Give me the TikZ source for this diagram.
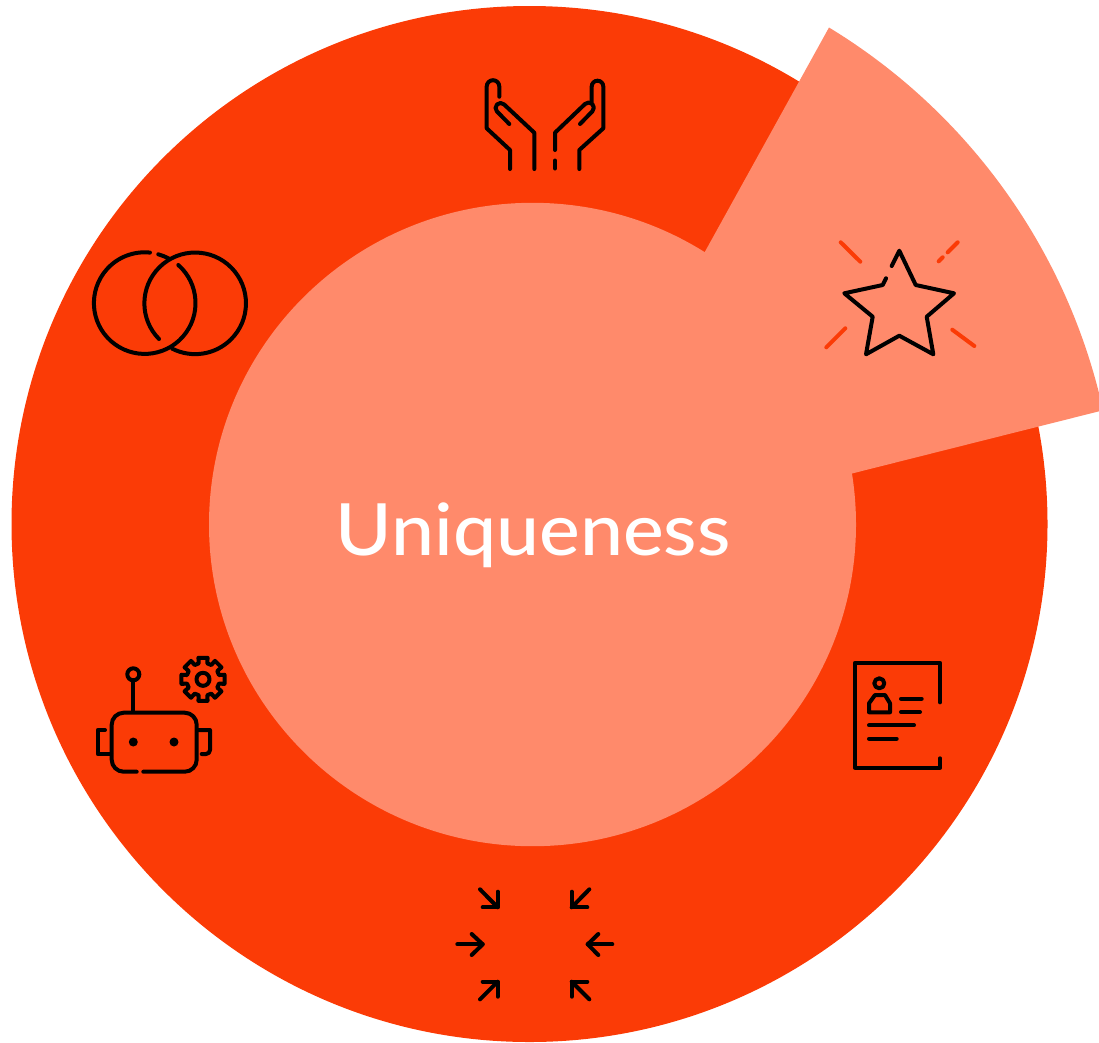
\documentclass[tikz,border=0pt]{standalone}
\usepackage{fontspec}
\setmainfont{Lato Medium}[FakeStretch=1.068]
\definecolor{ringorange}{HTML}{FB3B06}
\definecolor{salmon}{HTML}{FF8A6B}
\tikzset{
  iconline/.style={draw=black,line width=4pt,line cap=round,line join=round,fill=none},
  spark/.style={draw=ringorange,line width=4pt,line cap=round},
  eyedot/.style={fill=black,draw=none}
}
\begin{document}
\begin{tikzpicture}[x=1pt,y=-1pt]
\useasboundingbox (0,0) rectangle (1099,1042);
\clip (0,0) rectangle (1099,1042);
% ring, centre and the pulled-out wedge
\fill[ringorange] (529.5,524) circle[radius=518];
\fill[salmon] (532.5,524.5) ellipse[x radius=323.5,y radius=321.7];
\fill[salmon] (704.5,252.5) -- (829,27.5) arc[start angle=-58.7,end angle=-12.5,radius=600] -- (852,473.5) -- (532.5,524.5) -- cycle;
\node[text=white,font=\fontsize{72}{72}\selectfont,inner sep=0pt,anchor=base] (title) at (533,555) {Uniqueness};
% hands
\draw[iconline] (499.3,96.7) -- (499.3,86.5) arc[start angle=0,end angle=-180,radius=6.3] -- (486.7,128.3) -- (510,150) -- (510,169);
\draw[iconline] (509.3,124) -- (497,111.5) arc[start angle=135,end angle=315,radius=5] -- (534.3,132.7) -- (534.3,169);
\draw[iconline] (555,150) -- (555,132.7) -- (585,104) arc[start angle=-135,end angle=45,radius=5.2] -- (580,124);
\draw[iconline] (591.7,101.7) -- (591.7,86.5) arc[start angle=180,end angle=360,radius=5.8] -- (603.3,128.3) -- (579.3,150) -- (579.3,169);
\draw[iconline] (555,160.5) -- (555,168.5);
% star
\draw[iconline] (891.7,266) -- (899.3,250.7) -- (915.7,285) -- (954,293.3) -- (926.7,316.7) -- (933.3,354.3) -- (899.3,335.7) -- (866,354.3) -- (872.7,316.7) -- (844.3,293.3) -- (882.7,285) -- (886,278.3);
\draw[spark] (840.7,242.3) -- (860.3,261.7);
\draw[spark] (957.7,242.3) -- (947.7,252.3);
\draw[spark] (942.7,257.3) -- (938.7,261.3);
\draw[spark] (845.3,328.3) -- (826.3,347.3);
\draw[spark] (952.3,329.7) -- (974.3,346);
% rings
\draw[iconline] (158.3,254.3) arc[start angle=-74.5,end angle=-61.7,radius=50.8];
\draw[iconline] (178.3,265) arc[start angle=-48.6,end angle=275.9,radius=50.8];
\draw[iconline] (159,339) arc[start angle=135.4,end angle=476.7,radius=50.8];
% robot
\draw[iconline] (133.3,674.3) circle[radius=6];
\draw[iconline] (133.3,681.7) -- (133.3,711.7);
\draw[iconline] (136.7,771.7) -- (123.7,771.7) arc[start angle=90,end angle=180,radius=12] -- (111.7,724.7) arc[start angle=180,end angle=270,radius=12] -- (184.7,712.7) arc[start angle=270,end angle=360,radius=12] -- (196.7,759.7) arc[start angle=0,end angle=90,radius=12] -- (143.3,771.7);
\fill[eyedot] (133.3,742) circle[radius=4.5];
\fill[eyedot] (174,742) circle[radius=4.5];
\draw[iconline] (105,730) -- (97.7,730) -- (97.7,754) -- (111,754);
\draw[iconline] (198.3,730) -- (210,730) -- (210,750) arc[start angle=0,end angle=90,radius=4] -- (201.7,754);
\draw[iconline,shift={(203,679.3)}] (-15:16.5) \foreach \a in {0,45,...,315}{ -- (\a-15:16.5) -- (\a-12:22) -- (\a+12:22) -- (\a+15:16.5)} -- cycle;
\draw[iconline] (203,679.3) circle[radius=6.5];
% document
\draw[iconline] (940,702.3) -- (940,662.7) -- (855,662.7) -- (855,767.7) -- (940,767.7) -- (940,758.3);
\draw[iconline] (879.3,683.3) circle[radius=5];
\draw[iconline] (869,712.3) -- (869,703.3) -- (875,695) -- (885,695) -- (890,703.3) -- (890,712.3) -- cycle;
\draw[iconline] (901,698.7) -- (921.7,698.7);
\draw[iconline] (901,712) -- (920,712);
\draw[iconline] (869,725.3) -- (914,725.3);
\draw[iconline] (869,738.7) -- (896.7,738.7);
% arrows
\draw[iconline] (480,889.3) -- (497.7,907.3);
\draw[iconline] (497.7,891.7) -- (497.7,907.3) -- (482.7,907.3);
\draw[iconline] (589.3,889.3) -- (571.7,907.3);
\draw[iconline] (571.7,891.7) -- (571.7,907.3) -- (587.3,907.3);
\draw[iconline] (457.3,944.3) -- (482.7,944.3);
\draw[iconline] (471.7,934) -- (482.7,944.3) -- (471.7,955);
\draw[iconline] (612.3,944.3) -- (587.7,944.3);
\draw[iconline] (598.3,934) -- (587.7,944.3) -- (598.3,955);
\draw[iconline] (480,999.3) -- (497.7,981.7);
\draw[iconline] (482.7,981.7) -- (497.7,981.7) -- (497.7,996.7);
\draw[iconline] (589.3,999.3) -- (571.7,981.7);
\draw[iconline] (587.3,981.7) -- (571.7,981.7) -- (571.7,996.7);
\end{tikzpicture}
\end{document}
